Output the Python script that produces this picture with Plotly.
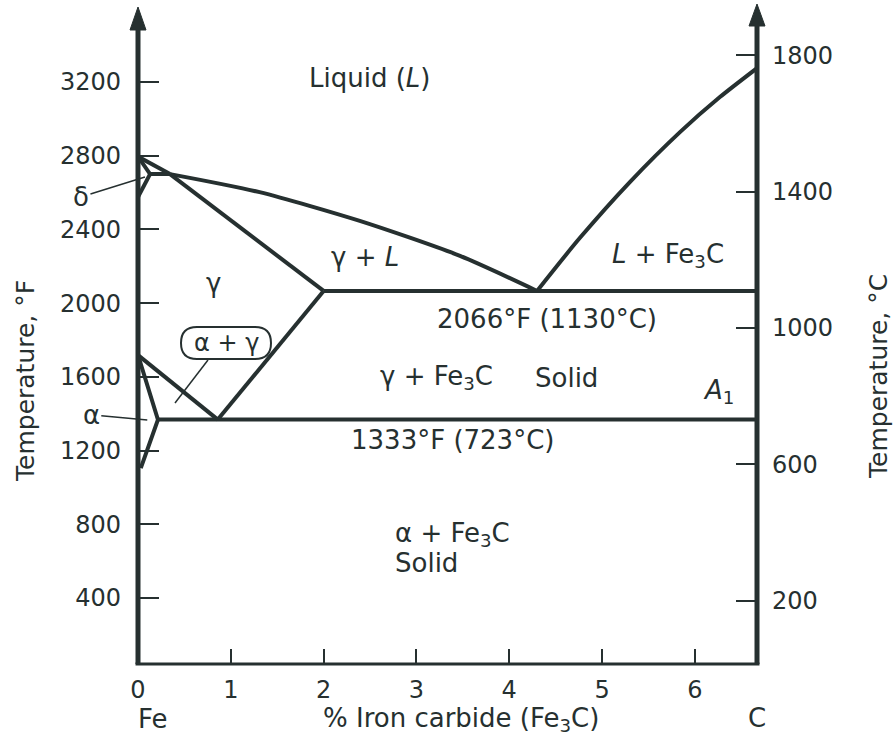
import plotly.graph_objects as go

# ---------------- data (x = % iron carbide, y = temperature in °F) ----------------
# delta liquidus A -> B
delta_top_x = [0.0, 0.345]
delta_top_F = [2795, 2700]
# liquidus from the peritectic to the eutectic
liq_left_x = [0.345, 1.31, 2.39, 3.47, 4.30]
liq_left_F = [2700, 2602, 2446, 2256, 2066]
# liquidus on the Fe3C side
liq_right_x = [4.30, 4.76, 5.30, 5.84, 6.27, 6.67]
liq_right_F = [2066, 2353, 2657, 2928, 3118, 3275]
# delta region boundaries (A -> H -> B, H -> N)
delta_x = [0.0, 0.13, 0.345]
delta_F = [2795, 2700, 2700]
delta_low_x = [0.13, 0.0]
delta_low_F = [2700, 2575]
# solidus of gamma (B -> E)
solidus_x = [0.345, 2.0]
solidus_F = [2700, 2066]
# eutectic horizontal
eutectic_x = [2.0, 6.67]
eutectic_F = [2066, 2066]
# A3 line (G -> S) and Acm line (S -> E)
a3_x = [0.0, 0.86]
a3_F = [1718, 1368]
acm_x = [0.86, 2.0]
acm_F = [1368, 2066]
# alpha region boundary (G -> P -> Q)
alpha_x = [0.0, 0.215, 0.03]
alpha_F = [1718, 1368, 1105]
# eutectoid horizontal (A1)
eutectoid_x = [0.215, 6.67]
eutectoid_F = [1368, 1368]

x_ticks = [0, 1, 2, 3, 4, 5, 6]
F_ticks = [400, 800, 1200, 1600, 2000, 2400, 2800, 3200]
C_ticks = [200, 600, 1000, 1400, 1800]

INK = "#263030"
FONT = "DejaVu Sans"
LS = 26   # label size
TS = 24   # tick size

W, H = 896, 739
ML, MR, MT, MB = 138, 139, 4, 75
XR = [0, 6.67]
FR = [41.8, 3623]
CR = [14.7, 1950]
PW = W - ML - MR
PH = H - MT - MB


def px2x(px):
    return XR[0] + (px - ML) / PW * (XR[1] - XR[0])


def py2F(py):
    return FR[0] + (H - MB - py) / PH * (FR[1] - FR[0])


def pyp(py):
    return (H - MB - py) / PH


fig = go.Figure()

segments = [
    (delta_top_x, delta_top_F, "linear"),
    (liq_left_x, liq_left_F, "spline"),
    (liq_right_x, liq_right_F, "spline"),
    (delta_x, delta_F, "linear"),
    (delta_low_x, delta_low_F, "linear"),
    (solidus_x, solidus_F, "linear"),
    (eutectic_x, eutectic_F, "linear"),
    (a3_x, a3_F, "linear"),
    (acm_x, acm_F, "linear"),
    (alpha_x, alpha_F, "linear"),
    (eutectoid_x, eutectoid_F, "linear"),
]
for xs, ys, shp in segments:
    fig.add_trace(go.Scatter(
        x=xs, y=ys, mode="lines", cliponaxis=False, hoverinfo="skip",
        line=dict(color=INK, width=4, shape=shp, smoothing=0.7),
        showlegend=False))

# invisible trace for the right axis
fig.add_trace(go.Scatter(x=[0], y=[0], yaxis="y2", mode="markers",
                         marker=dict(opacity=0), showlegend=False, hoverinfo="skip"))

tickfont = dict(family=FONT, size=TS, color=INK)
fig.update_layout(
    width=W, height=H, margin=dict(l=ML, r=MR, t=MT, b=MB),
    paper_bgcolor="white", plot_bgcolor="white",
    xaxis=dict(range=XR, tickvals=x_ticks, ticks="inside", ticklen=15, tickwidth=2,
               tickcolor=INK, showgrid=False, zeroline=False, showline=False,
               tickfont=tickfont, ticklabelstandoff=9),
    yaxis=dict(range=FR, tickvals=F_ticks, ticks="inside", ticklen=21, tickwidth=2,
               tickcolor=INK, showgrid=False, zeroline=False, showline=False,
               tickfont=tickfont, ticklabelstandoff=16),
    yaxis2=dict(range=CR, tickvals=C_ticks, overlaying="y", side="right",
                ticks="inside", ticklen=21, tickwidth=2, tickcolor=INK,
                showgrid=False, zeroline=False, showline=False,
                tickfont=tickfont, ticklabelstandoff=14),
)

shapes = []
# axes lines
shapes.append(dict(type="line", xref="paper", yref="paper", x0=0, x1=0, y0=0, y1=pyp(28),
                   line=dict(color=INK, width=5)))
shapes.append(dict(type="line", xref="paper", yref="paper", x0=1, x1=1, y0=0, y1=pyp(24),
                   line=dict(color=INK, width=5)))
shapes.append(dict(type="line", xref="paper", yref="paper", x0=-0.004, x1=1.004, y0=0, y1=0,
                   line=dict(color=INK, width=3)))
# arrow heads
hw = 8 / PW
shapes.append(dict(type="path", xref="paper", yref="paper",
                   path=f"M {-hw} {pyp(30)} L {hw} {pyp(30)} L 0 {pyp(7)} Z",
                   fillcolor=INK, line=dict(color=INK, width=1)))
shapes.append(dict(type="path", xref="paper", yref="paper",
                   path=f"M {1-hw} {pyp(26)} L {1+hw} {pyp(26)} L 1 {pyp(4)} Z",
                   fillcolor=INK, line=dict(color=INK, width=1)))

# rounded box for alpha+gamma
bx0, bx1, by0, by1, r = 181, 271, 327, 359, 16
pts = (f"M {px2x(bx0+r)} {py2F(by0)} L {px2x(bx1-r)} {py2F(by0)} "
       f"Q {px2x(bx1)} {py2F(by0)} {px2x(bx1)} {py2F((by0+by1)/2)} "
       f"Q {px2x(bx1)} {py2F(by1)} {px2x(bx1-r)} {py2F(by1)} "
       f"L {px2x(bx0+r)} {py2F(by1)} "
       f"Q {px2x(bx0)} {py2F(by1)} {px2x(bx0)} {py2F((by0+by1)/2)} "
       f"Q {px2x(bx0)} {py2F(by0)} {px2x(bx0+r)} {py2F(by0)} Z")
shapes.append(dict(type="path", xref="x", yref="y", path=pts,
                   line=dict(color=INK, width=2)))
# leader from the box
shapes.append(dict(type="line", xref="x", yref="y", x0=px2x(208), y0=py2F(360),
                   x1=px2x(175), y1=py2F(403), line=dict(color=INK, width=1.5)))
fig.update_layout(shapes=shapes)

ann = []


def T(x, y, text, xanchor="center", size=LS):
    ann.append(dict(x=x, y=y, xref="x", yref="y", text=text, showarrow=False,
                    xanchor=xanchor, yanchor="middle",
                    font=dict(family=FONT, size=size, color=INK)))


T(2.49, 3222, "Liquid (<i>L</i>)")
T(0.81, 2109, "γ")
T(2.45, 2250, "γ + <i>L</i>")
T(5.71, 2261, "<i>L</i> + Fe<sub>3</sub>C")
T(4.41, 1914, "2066°F (1130°C)")
T(3.22, 1594, "γ + Fe<sub>3</sub>C")
T(4.62, 1594, "Solid")
T(6.26, 1518, "<i>A</i><sub>1</sub>")
T(3.39, 1257, "1333°F (723°C)")
T(2.75, 742, "α + Fe<sub>3</sub>C", xanchor="left")
T(2.75, 590, "Solid", xanchor="left")
T(0.95, 1783, "α + γ", size=24)

# labels with leader lines
ann.append(dict(x=0.075, y=2684, xref="x", yref="y", text="δ", showarrow=True,
                arrowhead=0, arrowwidth=1.5, arrowcolor=INK, ax=-64, ay=20,
                font=dict(family=FONT, size=LS, color=INK)))
ann.append(dict(x=0.1, y=1366, xref="x", yref="y", text="α", showarrow=True,
                arrowhead=0, arrowwidth=1.5, arrowcolor=INK, ax=-56, ay=-5,
                font=dict(family=FONT, size=LS, color=INK)))

# bottom labels
ann.append(dict(x=-0.003, y=pyp(719), xref="paper", yref="paper", text="Fe", showarrow=False,
                xanchor="left", yanchor="middle", font=dict(family=FONT, size=LS, color=INK)))
ann.append(dict(x=(461 - ML) / PW, y=pyp(719), xref="paper", yref="paper",
                text="% Iron carbide (Fe<sub>3</sub>C)", showarrow=False,
                xanchor="center", yanchor="middle", font=dict(family=FONT, size=LS, color=INK)))
ann.append(dict(x=1.0, y=pyp(718), xref="paper", yref="paper", text="C", showarrow=False,
                xanchor="center", yanchor="middle", font=dict(family=FONT, size=LS, color=INK)))
# axis titles
ann.append(dict(x=-(ML - 25) / PW, y=pyp(381), xref="paper", yref="paper",
                text="Temperature, °F", showarrow=False, textangle=-90,
                xanchor="center", yanchor="middle", font=dict(family=FONT, size=25, color=INK)))
ann.append(dict(x=1 + (878 - (W - MR)) / PW, y=pyp(377), xref="paper", yref="paper",
                text="Temperature, °C", showarrow=False, textangle=-90,
                xanchor="center", yanchor="middle", font=dict(family=FONT, size=25, color=INK)))

fig.update_layout(annotations=ann)
fig.write_html("out.html", config={"displayModeBar": False},
               post_script="document.body.style.margin='0px';document.body.style.overflow='hidden';")
